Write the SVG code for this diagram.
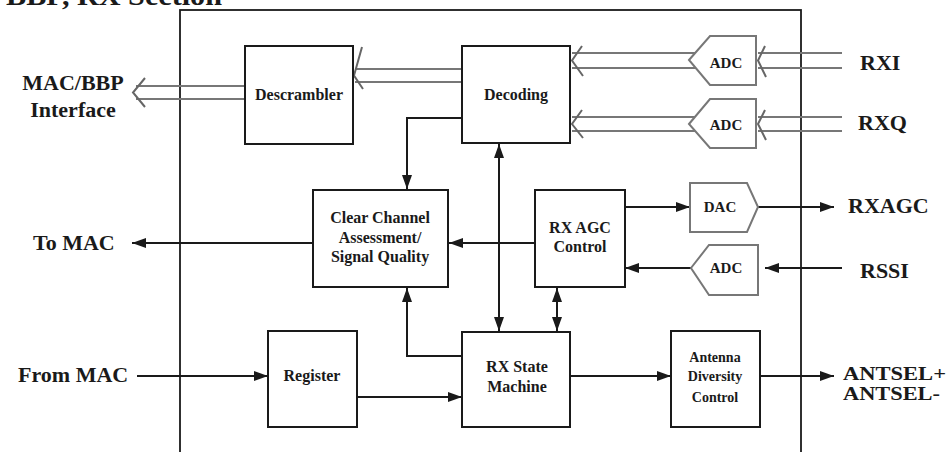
<svg xmlns="http://www.w3.org/2000/svg" width="951" height="452" viewBox="0 0 951 452">
<style>
text{font-family:"Liberation Serif","Times New Roman",serif;font-weight:bold;fill:#1a1a1a}
.box{fill:#fff;stroke:#1a1a1a;stroke-width:2}
.conv{fill:#fff;stroke:#777;stroke-width:2}
.ln{fill:none;stroke:#1a1a1a;stroke-width:2}
.bus{fill:none;stroke:#777;stroke-width:2}
.chev{fill:none;stroke:#666;stroke-width:2}
.lbl{font-size:16px;text-anchor:middle}
.sm{font-size:14px;text-anchor:middle}
.ext{font-size:22px}
.ant{font-size:18px}
.cv{font-size:15px;text-anchor:middle}
</style>
<defs>
<marker id="ah" markerUnits="userSpaceOnUse" markerWidth="14" markerHeight="10" refX="14" refY="5" orient="auto">
<path d="M0,0 L14,5 L0,10 Z" fill="#1a1a1a"/>
</marker>
</defs>
<rect width="951" height="452" fill="#fff"/>
<text x="6" y="5" font-size="27px" textLength="216" lengthAdjust="spacingAndGlyphs">BBP, RX Section</text>
<rect x="180" y="10" width="621" height="460" fill="none" stroke="#1a1a1a" stroke-width="1.8"/>

<g id="connectors">
<line class="bus" x1="462" y1="69" x2="355" y2="69"/>
<line class="bus" x1="462" y1="82" x2="355" y2="82"/>
<polyline class="chev" points="362,47 354,75.5 363,89"/>
<line class="bus" x1="245" y1="86" x2="136" y2="86"/>
<line class="bus" x1="245" y1="99" x2="136" y2="99"/>
<polyline class="chev" points="145,78 133,92.5 145,107"/>
<line class="bus" x1="695" y1="53" x2="572" y2="53"/>
<line class="bus" x1="696" y1="68" x2="572" y2="68"/>
<polyline class="chev" points="582,46 572,60.5 583,76"/>
<line class="bus" x1="842" y1="53" x2="758" y2="53"/>
<line class="bus" x1="842" y1="68" x2="758" y2="68"/>
<polyline class="chev" points="765,46 758,60.5 766,77"/>
<line class="bus" x1="695" y1="117" x2="572" y2="117"/>
<line class="bus" x1="696" y1="131" x2="572" y2="131"/>
<polyline class="chev" points="582,110 572,124 583,138"/>
<line class="bus" x1="842" y1="117" x2="758" y2="117"/>
<line class="bus" x1="842" y1="131" x2="758" y2="131"/>
<polyline class="chev" points="765,110 758,124 766,140"/>
<polyline class="ln" points="462,118 407,118 407,189" marker-end="url(#ah)"/>
<line class="ln" x1="313" y1="243" x2="132" y2="243" marker-end="url(#ah)"/>
<line class="ln" x1="535" y1="243" x2="449" y2="243" marker-end="url(#ah)"/>
<line class="ln" x1="499" y1="200" x2="499" y2="144" marker-end="url(#ah)"/>
<line class="ln" x1="499" y1="200" x2="499" y2="331" marker-end="url(#ah)"/>
<line class="ln" x1="557" y1="310" x2="557" y2="288" marker-end="url(#ah)"/>
<line class="ln" x1="557" y1="310" x2="557" y2="331" marker-end="url(#ah)"/>
<polyline class="ln" points="462,356 407,356 407,288" marker-end="url(#ah)"/>
<line class="ln" x1="137" y1="376" x2="268" y2="376" marker-end="url(#ah)"/>
<line class="ln" x1="357" y1="397" x2="462" y2="397" marker-end="url(#ah)"/>
<line class="ln" x1="570" y1="376" x2="671" y2="376" marker-end="url(#ah)"/>
<line class="ln" x1="760" y1="376" x2="834" y2="376" marker-end="url(#ah)"/>
<line class="ln" x1="625" y1="207" x2="690" y2="207" marker-end="url(#ah)"/>
<line class="ln" x1="758" y1="207" x2="834" y2="207" marker-end="url(#ah)"/>
<line class="ln" x1="842" y1="268" x2="765" y2="268" marker-end="url(#ah)"/>
<line class="ln" x1="691" y1="268" x2="625" y2="268" marker-end="url(#ah)"/>
</g>

<g id="descrambler"><rect class="box" x="245" y="46" width="108" height="98"/><text class="lbl" x="299" y="100">Descrambler</text></g>
<g id="decoding"><rect class="box" x="462" y="46" width="108" height="97"/><text class="lbl" x="516" y="100">Decoding</text></g>
<g id="adc1"><polygon class="conv" points="689,60 710,36 756,36 756,85 710,85"/><text class="cv" x="726" y="68">ADC</text></g>
<g id="adc2"><polygon class="conv" points="689,124 710,99 756,99 756,148 710,148"/><text class="cv" x="726" y="130">ADC</text></g>
<g id="cca"><rect class="box" x="313" y="190" width="135" height="97"/>
<text class="lbl" x="380" y="223">Clear Channel</text><text class="lbl" x="380" y="243">Assessment/</text><text class="lbl" x="380" y="262">Signal Quality</text></g>
<g id="rxagc"><rect class="box" x="535" y="190" width="90" height="97"/>
<text class="lbl" x="580" y="233">RX AGC</text><text class="lbl" x="580" y="252">Control</text></g>
<g id="dac"><polygon class="conv" points="690,183 747,183 758,207 747,232 690,232"/><text class="cv" x="720" y="212">DAC</text></g>
<g id="adc3"><polygon class="conv" points="691,268 709,245 758,245 758,295 709,295"/><text class="cv" x="726" y="273">ADC</text></g>
<g id="register"><rect class="box" x="268" y="331" width="89" height="96"/><text class="lbl" x="312" y="381">Register</text></g>
<g id="rxsm"><rect class="box" x="462" y="332" width="108" height="95"/>
<text class="lbl" x="517" y="372">RX State</text><text class="lbl" x="517" y="392">Machine</text></g>
<g id="antenna"><rect class="box" x="671" y="331" width="89" height="96"/>
<text class="sm" x="715" y="362">Antenna</text><text class="sm" x="715" y="381">Diversity</text><text class="sm" x="715" y="402">Control</text></g>

<g id="labels">
<text class="ext" x="73" y="90" text-anchor="middle">MAC/BBP</text>
<text class="ext" x="73" y="117" text-anchor="middle">Interface</text>
<text class="ext" x="33" y="250">To MAC</text>
<text class="ext" x="18" y="382">From MAC</text>
<text class="ext" x="860" y="70">RXI</text>
<text class="ext" x="858" y="130">RXQ</text>
<text class="ext" x="848" y="213">RXAGC</text>
<text class="ext" x="860" y="278">RSSI</text>
<text class="ant" x="843" y="380" textLength="103" lengthAdjust="spacingAndGlyphs">ANTSEL+</text>
<text class="ant" x="843" y="400" textLength="97" lengthAdjust="spacingAndGlyphs">ANTSEL-</text>
</g>
</svg>
